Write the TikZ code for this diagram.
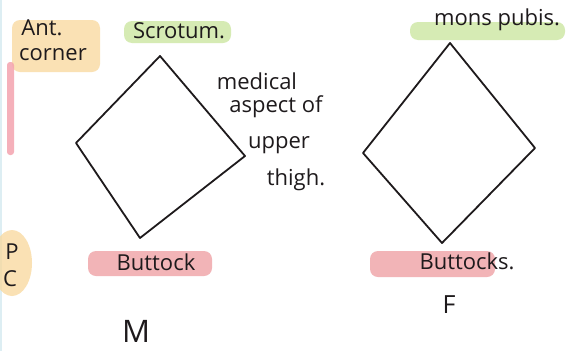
\documentclass[tikz,border=0pt]{standalone}
\usepackage{fontspec}
\setmainfont{Open Sans}
\definecolor{ink}{HTML}{1E1A1C}
\definecolor{hlorange}{HTML}{F9D89C}
\definecolor{hlgreen}{HTML}{C9E59B}
\definecolor{hlpink}{HTML}{EE9BA0}
\definecolor{pinkline}{HTML}{F4A3AE}
\definecolor{edgeblue}{HTML}{DDEEF3}
\tikzset{
  hand/.style={text=ink, inner sep=0pt, font=\fontsize{22}{26}\selectfont},
  big/.style={text=ink, inner sep=0pt, font=\fontsize{31}{36}\selectfont},
  mid/.style={text=ink, inner sep=0pt, font=\fontsize{25}{29}\selectfont},
  kite/.style={draw=ink, line width=1.8pt, line join=round},
  hl/.style={opacity=0.75, rounded corners=8pt}
}
\begin{document}
\begin{tikzpicture}[x=1pt,y=-1pt]
\useasboundingbox (0,0) rectangle (585,351);
\fill[white] (0,0) rectangle (585,351);
\fill[edgeblue] (0,0) rectangle (2,351);
% highlights
\fill[hlorange,hl] (12,20) rectangle (100,72);
\fill[hlorange,opacity=0.75] (12,263) ellipse (20pt and 33pt);
\fill[hlgreen,hl] (124,21) rectangle (231,43);
\fill[hlgreen,hl] (410,22) rectangle (565,40);
\fill[hlpink,hl] (88,251) rectangle (212,276);
\fill[hlpink,hl] (370,251) rectangle (495,277);
\fill[pinkline,opacity=0.85,rounded corners=3pt] (7,62) rectangle (14,155);
% diamonds
\coordinate (mT) at (160,56);
\coordinate (mL) at (76,143);
\coordinate (mR) at (245,156);
\coordinate (mB) at (140,238);
\coordinate (fT) at (450,43);
\coordinate (fL) at (363,153);
\coordinate (fR) at (535,148);
\coordinate (fB) at (442,243);
\draw[kite] (mT) -- (mR) -- (mB) -- (mL) -- cycle;
\draw[kite] (fT) -- (fR) -- (fB) -- (fL) -- cycle;
% labels
\node[hand] (ant) at (42,28) {Ant.};
\node[hand] (corner) at (53,55) {corner};
\node[hand] (scrotum) at (179,31) {Scrotum.};
\node[hand] (med1) at (257,81) {medical};
\node[hand] (med2) at (276,107) {aspect of};
\node[hand] (med3) at (279,145) {upper};
\node[hand] (med4) at (296,180) {thigh.};
\node[hand] (mons) at (497,20) {mons pubis.};
\node[hand] (buttm) at (156,262) {Buttock};
\node[hand] (buttf) at (467,261) {Buttocks.};
\node[hand] (p) at (12,252) {P};
\node[hand] (c) at (10,279) {C};
\node[big] (m) at (136,331) {M};
\node[mid] (f) at (449,305) {F};
\end{tikzpicture}
\end{document}
